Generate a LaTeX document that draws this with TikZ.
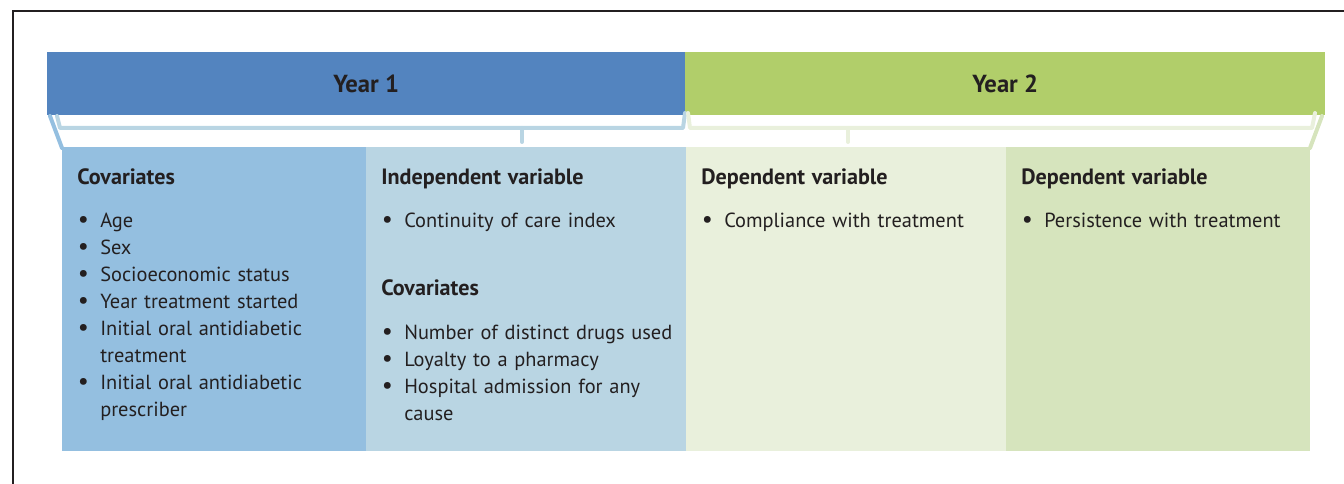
\documentclass[tikz,border=0pt]{standalone}
\usepackage{fontspec}
\setmainfont{PT Sans}
\usepackage{xcolor}
\usepackage{tikz}
\usetikzlibrary{positioning}

\definecolor{ink}{HTML}{231F20}
\definecolor{yearone}{HTML}{5384BF}
\definecolor{yeartwo}{HTML}{B1CE6A}
\definecolor{covblue}{HTML}{94BFE0}
\definecolor{indblue}{HTML}{B9D5E3}
\definecolor{depgreen}{HTML}{E9F0DC}
\definecolor{pergreen}{HTML}{D6E4BD}

\tikzstyle{yearbar} = [anchor=north west, inner sep=0pt, minimum height=47.25pt, text=ink, font=\bfseries\fontsize{18.5}{22}\selectfont]
\tikzstyle{panel} = [anchor=north west, inner sep=0pt, minimum height=228pt]
\tikzstyle{paneltext} = [anchor=north west, inner sep=0pt, text width=230pt, align=left, text=ink, font=\fontsize{15.3}{20.25}\selectfont]
\tikzstyle{brace} = [line width=3pt, line cap=round, line join=round]

% bullet item with hanging indent
\newcommand{\bul}[1]{\hangindent=17.25pt\hangafter=1\noindent\makebox[17.25pt][l]{\hspace{0.5pt}\scalebox{1.2}{\textbullet}}#1\par}
\newcommand{\heading}[1]{\noindent{\bfseries\fontsize{16.6}{20.25}\selectfont #1}\par\vspace{12.5pt}}

\begin{document}
\begin{tikzpicture}[x=0.75pt,y=-0.75pt]
	\useasboundingbox (0,0) rectangle (1344,484);

	% frame
	\draw[ink, line width=1.5pt] (13,484) -- (13,11) -- (1344,11);

	% year bars
	\node[yearbar, fill=yearone, minimum width=478.5pt] (year1) at (47,52) {Year 1};
	\node[yearbar, fill=yeartwo, minimum width=480pt] (year2) at (685,52) {Year 2};

	% panels
	\node[panel, fill=covblue, minimum width=228pt] (cov) at (62,147) {};
	\node[panel, fill=indblue, minimum width=240pt] (ind) at (366,147) {};
	\node[panel, fill=depgreen, minimum width=240pt] (comp) at (686,147) {};
	\node[panel, fill=pergreen, minimum width=228pt] (pers) at (1006,147) {};

	% braces under the year bars
	\draw[brace, covblue] (50,116) -- (62,148);
	\draw[brace, indblue] (57,116) -- (60,128) -- (683,128) -- (685,113);
	\draw[brace, indblue] (522,128) -- (522,142);
	\draw[brace, depgreen] (688,113) -- (690,128) -- (1312,128) -- (1315,113);
	\draw[brace, depgreen] (848,128) -- (848,142);
	\draw[brace, pergreen] (1322,116) -- (1310,148);

	% panel texts
	\node[paneltext] (covtxt) at (77,168) {%
		\heading{Covariates}%
		\bul{Age}
		\bul{Sex}
		\bul{Socioeconomic status}
		\bul{Year treatment started}
		\bul{Initial oral antidiabetic\newline treatment}
		\bul{Initial oral antidiabetic\newline prescriber}};
	\node[paneltext] (indtxt) at (381,168) {%
		\heading{Independent variable}%
		\bul{Continuity of care index}\vspace{30.5pt}
		\heading{Covariates}%
		\bul{Number of distinct drugs used}
		\bul{Loyalty to a pharmacy}
		\bul{Hospital admission for any\newline cause}};
	\node[paneltext] (comptxt) at (701,168) {%
		\heading{Dependent variable}%
		\bul{Compliance with treatment}};
	\node[paneltext] (perstxt) at (1021,168) {%
		\heading{Dependent variable}%
		\bul{Persistence with treatment}};
\end{tikzpicture}
\end{document}
